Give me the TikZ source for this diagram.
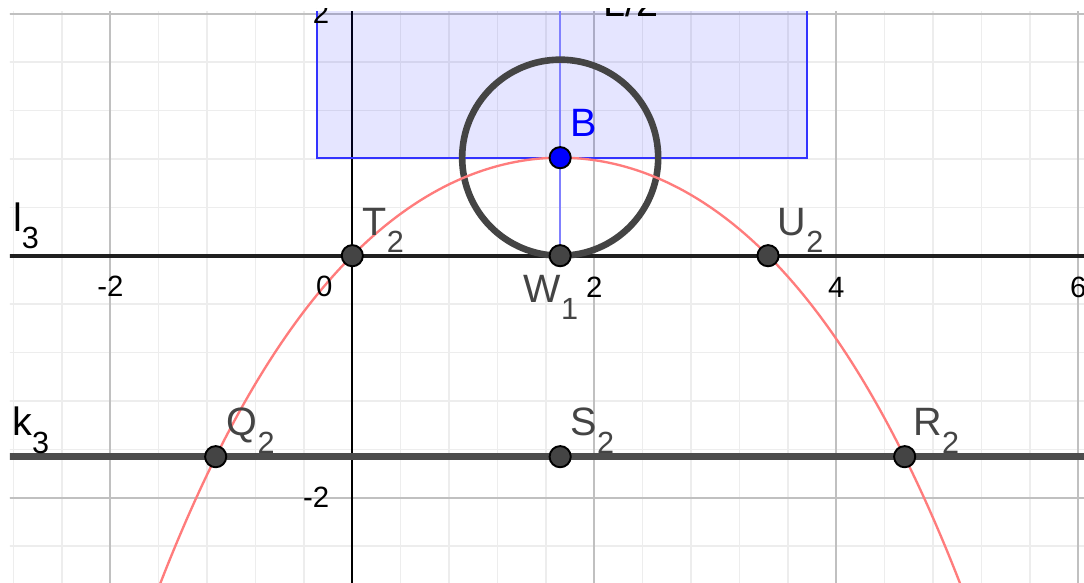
\documentclass[tikz,border=0pt]{standalone}
\usepackage{fontspec}
\setmainfont{Liberation Sans}
\definecolor{ptgray}{HTML}{444444}
\definecolor{kline}{HTML}{4D4D4D}
\definecolor{curvered}{HTML}{FF7C7C}
\definecolor{minorgrid}{HTML}{EDEDED}
\definecolor{majorgrid}{HTML}{C0C0C0}
\definecolor{rectblue}{HTML}{3333FF}
\definecolor{vblue}{HTML}{8080FF}
\newcommand{\sublab}[2]{#1\raisebox{-4pt}{\fontsize{7.2}{8}\selectfont #2}}
\begin{document}
\begin{tikzpicture}[x=1cm,y=1cm,
  ptnode/.style={circle, fill=ptgray, draw=black, line width=0.45pt, minimum size=0.175cm, inner sep=0pt},
  lab/.style={anchor=base west, inner sep=0pt, text=ptgray, font=\fontsize{9.3}{11}\selectfont},
  linelab/.style={anchor=base west, inner sep=0pt, text=black, font=\fontsize{9.3}{11}\selectfont},
  ticklab/.style={inner sep=0pt, text=black, font=\fontsize{6.9}{8}\selectfont},
  minorline/.style={minorgrid, line width=0.35pt},
  majorline/.style={majorgrid, line width=0.45pt},
]
\useasboundingbox (-2.9116,-2.7050) rectangle (6.0471,2.1132);
\fill[white] (-2.9116,-2.7050) rectangle (6.0471,2.1132);
\begin{scope}
\clip (-2.829,-2.7050) rectangle (6.0471,2.0223);
% minor grid
\foreach \i in {-7,...,15} \draw[minorline] ({\i*0.4},-3) -- ({\i*0.4},2.5);
\foreach \j in {-7,...,5} \draw[minorline] (-3,{\j*0.4}) -- (6.2,{\j*0.4});
% major grid
\foreach \i in {-2,2,4,6} \draw[majorline] (\i,-3) -- (\i,2.5);
\foreach \j in {-2,2} \draw[majorline] (-3,\j) -- (6.2,\j);
% y axis
\coordinate (ybot) at (0,-3);
\coordinate (ytop) at (0,2.5);
\draw[black, line width=0.45pt] (ybot) -- (ytop);
% rectangle
\coordinate (rectA) at (-0.294,0.81);
\coordinate (rectB) at (3.758,2.6);
\filldraw[fill=blue, fill opacity=0.1, draw=rectblue, line width=0.45pt] (rectA) rectangle (rectB);
% named points
\coordinate (Bc) at (1.718,0.81);
\coordinate (W1c) at (1.718,0);
\coordinate (T2c) at (0,0);
\coordinate (U2c) at (3.436,0);
\coordinate (Q2c) at (-1.129,-1.661);
\coordinate (S2c) at (1.718,-1.661);
\coordinate (R2c) at (4.565,-1.661);
\coordinate (vtop) at (1.718,2.6);
% vertical blue line
\draw[vblue, line width=0.45pt] (W1c) -- (vtop);
% lines l3 and k3
\coordinate (l3w) at (-3,0);
\coordinate (l3e) at (6.2,0);
\coordinate (k3w) at (-3,-1.661);
\coordinate (k3e) at (6.2,-1.661);
\draw[black!88, line width=0.95pt] (l3w) -- (l3e);
\draw[kline, line width=1.65pt] (k3w) -- (k3e);
% circle
\draw[ptgray, line width=1.55pt] (Bc) circle (0.81);
% curve
\draw[curvered, line width=0.55pt, domain=-1.72:5.16, samples=160, smooth]
  plot (\x, {0.81-0.2563*(\x-1.718)^2-0.00602*(\x-1.718)^4});
% points
\node[ptnode] (T2) at (T2c) {};
\node[ptnode] (W1) at (W1c) {};
\node[ptnode] (U2) at (U2c) {};
\node[ptnode] (Q2) at (Q2c) {};
\node[ptnode] (S2) at (S2c) {};
\node[ptnode] (R2) at (R2c) {};
\node[ptnode, fill=blue] (B) at (Bc) {};
\end{scope}
\begin{scope}
\clip (-2.829,-2.7050) rectangle (6.0471,2.039);
% tick labels
\node[ticklab] (xm2) at (-2,-0.255) {-2};
\node[ticklab] (x0) at (-0.232,-0.255) {0};
\node[ticklab] (x2) at (2.0,-0.26) {2};
\node[ticklab] (x4) at (4.0,-0.26) {4};
\node[ticklab] (x6) at (6.0,-0.26) {6};
\node[ticklab, anchor=east] (ym2) at (-0.184,-2.0) {-2};
\node[ticklab, anchor=east] (y2) at (-0.184,2.0) {2};
% labels
\node[linelab] (l3lab) at (-2.81,0.196) {\sublab{l}{3}};
\node[linelab] (k3lab) at (-2.817,-1.490) {\sublab{k}{3}};
\node[lab] (T2lab) at (0.080,0.171) {\sublab{T}{2}};
\node[lab] (U2lab) at (3.510,0.171) {\sublab{U}{2}};
\node[lab] (W1lab) at (1.411,-0.383) {\sublab{W}{1}};
\node[lab, text=blue] (Blab) at (1.799,0.981) {B};
\node[lab] (Q2lab) at (-1.044,-1.490) {\sublab{Q}{2}};
\node[lab] (S2lab) at (1.799,-1.490) {\sublab{S}{2}};
\node[lab] (R2lab) at (4.631,-1.490) {\sublab{R}{2}};
\node[linelab] (E2lab) at (2.072,1.973) {L/2};
\end{scope}
\end{tikzpicture}
\end{document}
